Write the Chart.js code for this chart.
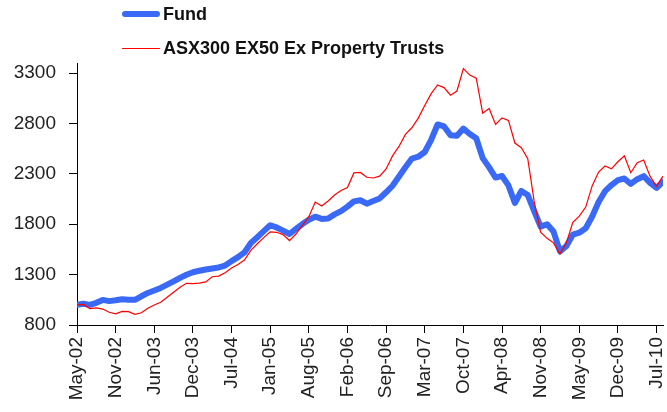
<!DOCTYPE html>
<html>
<head>
<meta charset="utf-8">
<script src="https://cdn.jsdelivr.net/npm/chart.js@4.4.0/dist/chart.umd.min.js"></script>
<style>
  body { margin: 0; background: #fff; }
  #wrap { position: relative; width: 667px; height: 412px; }
  .leg { position: absolute; left: 122px; height: 20px; font: bold 18px "Liberation Sans", Arial, sans-serif; color: #111; white-space: nowrap; }
  .leg i { display: inline-block; width: 38px; vertical-align: middle; margin-right: 3px; border-radius: 3px; }
  .leg span { vertical-align: middle; }
</style>
</head>
<body>
<div id="wrap">
  <canvas id="chart" width="667" height="412"></canvas>
  <div class="leg" style="top:3px"><i style="height:6px;background:#3a6af5"></i><span>Fund</span></div>
  <div class="leg" style="top:37px"><i style="height:1px;background:#ff0000"></i><span>ASX300 EX50 Ex Property Trusts</span></div>
</div>
<script>
// x axis labels, one every 6 points
var tickLabels = ['May-02', 'Nov-02', 'Jun-03', 'Dec-03', 'Jul-04', 'Jan-05', 'Aug-05', 'Feb-06',
                  'Sep-06', 'Mar-07', 'Oct-07', 'Apr-08', 'Nov-08', 'May-09', 'Dec-09', 'Jul-10'];
var yTicks = [800, 1300, 1800, 2300, 2800, 3300];

var fund = [1000, 1010, 1000, 1020, 1049, 1037, 1045, 1056, 1050, 1050,
            1085, 1118, 1142, 1168, 1200, 1233, 1268, 1299, 1324, 1338,
            1351, 1361, 1371, 1390, 1434, 1473, 1520, 1614, 1671, 1731,
            1790, 1768, 1737, 1703, 1753, 1802, 1845, 1875, 1853, 1857,
            1898, 1930, 1975, 2027, 2038, 2004, 2030, 2056, 2117, 2182,
            2274, 2366, 2452, 2470, 2517, 2638, 2790, 2770, 2684, 2677,
            2749, 2696, 2653, 2456, 2364, 2263, 2279, 2185, 2011, 2130,
            2090, 1931, 1776, 1800, 1727, 1530, 1584, 1697, 1716, 1760,
            1877, 2020, 2128, 2189, 2238, 2254, 2200, 2247, 2277, 2210,
            2160, 2222];

var asx = [1000, 1004, 963, 970, 958, 926, 911, 935, 932, 905,
           922, 967, 999, 1026, 1076, 1125, 1174, 1214, 1210, 1215,
           1228, 1279, 1285, 1319, 1366, 1401, 1444, 1541, 1606, 1667,
           1725, 1720, 1697, 1638, 1703, 1788, 1875, 2020, 1980, 2030,
           2090, 2134, 2165, 2309, 2314, 2266, 2259, 2277, 2348, 2478,
           2572, 2692, 2757, 2853, 2979, 3096, 3183, 3156, 3081, 3122,
           3345, 3280, 3250, 2902, 2948, 2790, 2855, 2830, 2606, 2560,
           2450, 2024, 1720, 1660, 1615, 1505, 1616, 1818, 1880, 1970,
           2180, 2318, 2378, 2350, 2420, 2480, 2311, 2410, 2438, 2275,
           2175, 2277];

function pts(arr) {
  return arr.map(function (v, i) { return { x: i, y: v }; });
}

var ctx = document.getElementById('chart');

var chart = new Chart(ctx, {
  type: 'line',
  data: {
    datasets: [{
      label: 'Fund',
      data: pts(fund),
      borderColor: '#3a6af5',
      borderWidth: 6,
      borderJoinStyle: 'round',
      borderCapStyle: 'round',
      pointRadius: 0,
      order: 1
    },
    {
      label: 'ASX300 EX50 Ex Property Trusts',
      data: pts(asx),
      borderColor: '#ff0000',
      borderWidth: 1.2,
      pointRadius: 0,
      order: 0
    }]
  },
  options: {
    responsive: false,
    animation: false,
    layout: { padding: { top: 63, right: 4, left: 0, bottom: 0 } },
    plugins: { legend: { display: false }, tooltip: { enabled: false } },
    scales: {
      x: {
        type: 'linear',
        min: 0,
        max: fund.length - 1,
        afterBuildTicks: function (s) {
          s.ticks = tickLabels.map(function (l, k) { return { value: k * 6 }; });
        },
        afterFit: function (s) {
          s.height = 87;
          s.paddingLeft = 0;
          s.paddingRight = 0;
        },
        border: { color: '#000', width: 1 },
        grid: { drawOnChartArea: false, tickLength: 8, color: '#000' },
        ticks: {
          autoSkip: false,
          minRotation: 90,
          maxRotation: 90,
          padding: 4,
          color: '#222',
          font: { family: '"Liberation Sans", Arial', size: 19 },
          callback: function (v) { return tickLabels[v / 6]; }
        }
      },
      y: {
        min: 800,
        max: 3400,
        afterBuildTicks: function (s) {
          s.ticks = yTicks.map(function (v) { return { value: v }; });
        },
        afterFit: function (s) {
          s.width = 77;
          s.paddingTop = 0;
          s.paddingBottom = 0;
        },
        border: { color: '#000', width: 1 },
        grid: { drawOnChartArea: false, tickLength: 8, color: '#000' },
        ticks: {
          padding: 13,
          color: '#222',
          font: { family: '"Liberation Sans", Arial', size: 19 },
          callback: function (v) { return String(v); }
        }
      }
    }
  }
});
</script>
</body>
</html>
